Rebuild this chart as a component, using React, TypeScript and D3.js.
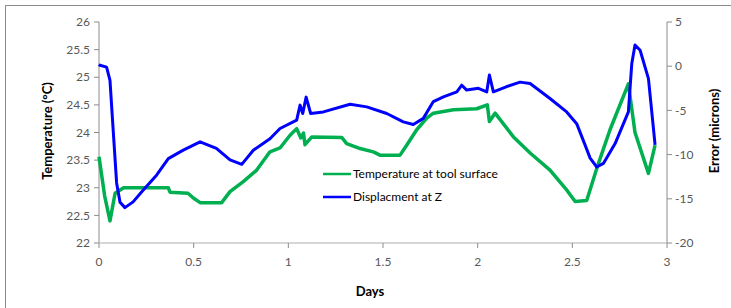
import React from 'react';
import * as d3 from 'd3';

const tempDays = [0, 0.03, 0.058, 0.085, 0.13, 0.366, 0.375, 0.47, 0.5, 0.534, 0.648, 0.692, 0.762, 0.833, 0.903, 0.956, 1.009, 1.044, 1.066, 1.08, 1.088, 1.124, 1.282, 1.308, 1.379, 1.449, 1.484, 1.59, 1.625, 1.678, 1.731, 1.766, 1.819, 1.872, 1.995, 2.051, 2.062, 2.092, 2.189, 2.28, 2.382, 2.47, 2.515, 2.576, 2.629, 2.699, 2.796, 2.805, 2.831, 2.902, 2.937];
const tempValues = [23.56, 22.85, 22.4, 22.9, 23.0, 23.0, 22.92, 22.9, 22.81, 22.73, 22.73, 22.93, 23.11, 23.32, 23.65, 23.72, 23.95, 24.07, 23.9, 23.99, 23.78, 23.92, 23.91, 23.8, 23.71, 23.65, 23.59, 23.59, 23.77, 24.05, 24.26, 24.35, 24.38, 24.41, 24.43, 24.5, 24.2, 24.35, 23.92, 23.62, 23.32, 22.96, 22.75, 22.77, 23.35, 24.05, 24.88, 24.65, 24.0, 23.26, 23.77];

const dispDays = [0, 0.005, 0.04, 0.058, 0.076, 0.093, 0.111, 0.137, 0.18, 0.234, 0.305, 0.366, 0.445, 0.534, 0.62, 0.692, 0.754, 0.815, 0.903, 0.956, 1.044, 1.062, 1.076, 1.094, 1.118, 1.185, 1.326, 1.414, 1.52, 1.607, 1.66, 1.713, 1.766, 1.819, 1.89, 1.916, 1.942, 2.004, 2.048, 2.062, 2.083, 2.154, 2.224, 2.277, 2.382, 2.47, 2.523, 2.567, 2.594, 2.629, 2.664, 2.726, 2.796, 2.814, 2.831, 2.858, 2.902, 2.937];
const dispValues = [0.2, 0.1, -0.1, -1.6, -7.6, -13.2, -15.4, -16.0, -15.35, -14.0, -12.3, -10.45, -9.5, -8.56, -9.3, -10.6, -11.1, -9.5, -8.2, -7.05, -6.1, -4.4, -5.35, -3.5, -5.35, -5.17, -4.3, -4.6, -5.35, -6.3, -6.6, -5.9, -4.0, -3.47, -2.9, -2.15, -2.7, -2.5, -2.9, -1.0, -2.9, -2.3, -1.8, -1.96, -3.65, -5.17, -6.5, -8.9, -10.4, -11.4, -11.0, -8.75, -5.17, 0.3, 2.4, 1.8, -1.4, -8.9];

const xTicks = [0, 0.5, 1, 1.5, 2, 2.5, 3];
const leftTicks = [22, 22.5, 23, 23.5, 24, 24.5, 25, 25.5, 26];
const rightTicks = [-20, -15, -10, -5, 0, 5];

const seriesNames = ['Temperature at tool surface', 'Displacment at Z'];
const seriesColors = ['#00B050', '#0000FF'];

export default function App() {
  const W = 731, H = 308;
  const x = d3.scaleLinear().domain([0, 3]).range([99, 667]);
  const yL = d3.scaleLinear().domain([22, 26]).range([243, 22]);
  const yR = d3.scaleLinear().domain([-20, 5]).range([243, 22]);
  const font = 'Lato, "Open Sans", sans-serif';
  const axisColor = '#8c8c8c';
  const tickText = '#595959';

  const tempLine = d3.line<number>().x((_, i) => x(tempDays[i])).y((d) => yL(d));
  const dispLine = d3.line<number>().x((_, i) => x(dispDays[i])).y((d) => yR(d));

  return (
    <div style={{ position: 'absolute', left: 0, top: 0 }}>
      <svg width={W} height={H} style={{ display: 'block', background: '#fff' }}>
        <rect x={5.5} y={5.5} width={740} height={320} fill="#fff" stroke="#8c8c8c" strokeWidth={1} />
        {/* left axis */}
        <line x1={x(0)} x2={x(0)} y1={yL(26)} y2={yL(22)} stroke={axisColor} />
        {leftTicks.map((t) => (
          <g key={'l' + t}>
            <line x1={x(0) - 5} x2={x(0)} y1={yL(t)} y2={yL(t)} stroke={axisColor} />
            <text x={x(0) - 9} y={yL(t)} dy="0.35em" textAnchor="end" fontFamily={font} fontSize={12} fill={tickText}>{t}</text>
          </g>
        ))}
        {/* right axis */}
        <line x1={x(3)} x2={x(3)} y1={yR(5)} y2={yR(-20)} stroke={axisColor} />
        {rightTicks.map((t) => (
          <g key={'r' + t}>
            <line x1={x(3)} x2={x(3) + 5} y1={yR(t)} y2={yR(t)} stroke={axisColor} />
            <text x={x(3) + 8} y={yR(t)} dy="0.35em" textAnchor="start" fontFamily={font} fontSize={12} fill={tickText}>{t}</text>
          </g>
        ))}
        {/* x axis */}
        <line x1={x(0)} x2={x(3)} y1={yL(22)} y2={yL(22)} stroke="#c8c8c8" strokeWidth={1.5} />
        {xTicks.map((t) => (
          <g key={'x' + t}>
            <line x1={x(t)} x2={x(t)} y1={yL(22)} y2={yL(22) + 5} stroke={axisColor} />
            <text x={x(t)} y={262} dy="0.35em" textAnchor="middle" fontFamily={font} fontSize={12} fill={tickText}>{t}</text>
          </g>
        ))}
        {/* titles */}
        <text transform="translate(47,131) rotate(-90)" textAnchor="middle" dy="0.35em" fontFamily={font} fontSize={13} fontWeight="bold" fill="#000">Temperature (°C)</text>
        <text transform="translate(714,131) rotate(-90)" textAnchor="middle" dy="0.35em" fontFamily={font} fontSize={13} fontWeight="bold" fill="#000">Error (microns)</text>
        <text x={370} y={291} dy="0.35em" textAnchor="middle" fontFamily={font} fontSize={13} fontWeight="bold" fill="#000">Days</text>
        {/* series */}
        <path d={tempLine(tempValues) || ''} fill="none" stroke={seriesColors[0]} strokeWidth={3.5} strokeLinejoin="round" />
        <path d={dispLine(dispValues) || ''} fill="none" stroke={seriesColors[1]} strokeWidth={3} strokeLinejoin="round" />
        {/* legend */}
        {seriesNames.map((n, i) => (
          <g key={n} transform={`translate(323,${174 + i * 23})`}>
            <line x1={0} x2={28} y1={0} y2={0} stroke={seriesColors[i]} strokeWidth={2.5} />
            <text x={30} y={0} dy="0.35em" fontFamily={font} fontSize={12} fill="#000">{n}</text>
          </g>
        ))}
      </svg>
    </div>
  );
}
